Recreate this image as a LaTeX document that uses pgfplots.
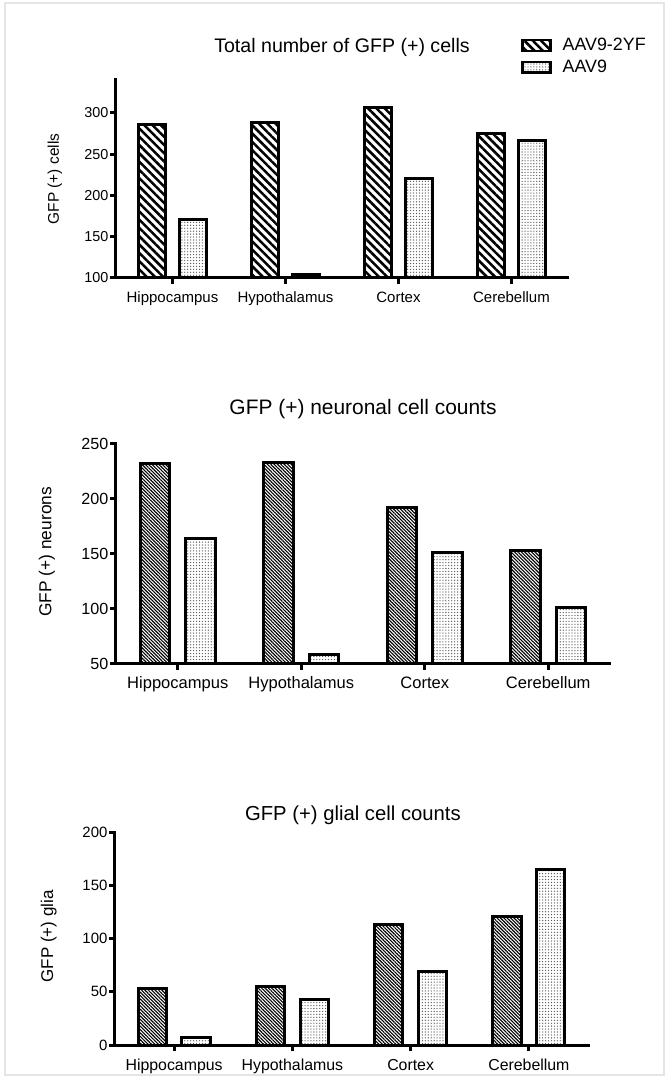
\documentclass[border=0pt]{standalone}
\usepackage{fontspec}
\setmainfont{Liberation Sans}
\usepackage{pgfplots}
\pgfplotsset{compat=1.18}
\usetikzlibrary{patterns.meta}

\pgfplotsset{
  brainbars/.style={
    scale only axis,
    axis lines=left,
    axis line style={-, line width=2.25pt, line cap=rect},
    tick align=outside,
    major tick length=4.5pt,
    every tick/.style={black, line width=2.25pt},
    xmin=-0.5, xmax=3.5,
    xtick={0,1,2,3},
    xticklabels={Hippocampus,Hypothalamus,Cortex,Cerebellum},
    ybar, bar width=0.24,
    /pgf/number format/assume math mode=true,
    yticklabel style={inner sep=1pt},
    xticklabel style={anchor=base, inner sep=0pt, yshift=-14.25pt},
  },
  legendbox/.style={legend image code/.code={%
    \draw[##1, line width=1.8pt] (0pt,-4pt) rectangle (21pt,4pt);
    \path (27pt,0pt);}},
  coarsehatch/.style={draw=black, line width=2.25pt, bar shift=-0.185,
    pattern={Lines[angle=-45, distance=4.4pt, line width=1.9pt]},
    pattern color=black, legendbox},
  finehatch/.style={draw=black, line width=2.25pt, bar shift=-0.185,
    pattern={Lines[angle=-45, distance=1.8pt, line width=0.85pt]},
    pattern color=black, legendbox},
  dotfill/.style={draw=black, line width=2.25pt, bar shift=0.185,
    pattern={Dots[distance=2.2pt, radius=0.5pt]},
    pattern color=gray!70!black, legendbox},
}

\begin{document}
\begin{tikzpicture}
\path[use as bounding box] (0,0) rectangle (499.5pt,807pt);
\draw[gray!20, line width=1.5pt] (3.75pt,0.75pt) rectangle (498pt,804.75pt);

% total GFP-positive cells
\begin{axis}[brainbars,
  at={(87pt,598.5pt)}, anchor=south west,
  width=339pt, height=148.5pt,
  ymin=100, ymax=340, ytick={100,150,200,250,300},
  xticklabel style={font=\fontsize{11.25}{13}\selectfont},
  yticklabel style={font=\fontsize{10.8}{13}\selectfont},
  title={Total number of GFP (+) cells},
  every axis title/.style={at={(axis description cs:0.5,1.141)}, anchor=base, font=\fontsize{14.7}{17}\selectfont},
  ylabel={GFP (+) cells},
  every axis y label/.style={at={(axis description cs:-0.135,0.5)}, rotate=90, anchor=center, font=\fontsize{11.6}{14}\selectfont},
  legend style={at={(axis description cs:0.896,1.226)}, anchor=north west,
    draw=none, fill=none, inner sep=0pt, row sep=1.5pt,
    font=\fontsize{13.4}{15}\selectfont},
  legend cell align=left,
]
\addplot[coarsehatch] coordinates {(0,286) (1,288) (2,307) (3,275)};
\addplot[dotfill] coordinates {(0,171) (1,104) (2,221) (3,267)};
\legend{AAV9-2YF, AAV9}
\end{axis}

% neuronal counts
\begin{axis}[brainbars,
  at={(87pt,309pt)}, anchor=south west,
  width=370.5pt, height=165pt,
  ymin=50, ymax=250, ytick={50,100,150,200,250},
  xticklabel style={font=\fontsize{12.4}{14}\selectfont},
  yticklabel style={font=\fontsize{12.1}{14}\selectfont},
  title={GFP (+) neuronal cell counts},
  every axis title/.style={at={(axis description cs:0.5,1.132)}, anchor=base, font=\fontsize{15.7}{18}\selectfont},
  ylabel={GFP (+) neurons},
  every axis y label/.style={at={(axis description cs:-0.14,0.51)}, rotate=90, anchor=center, font=\fontsize{13}{15}\selectfont},
]
\addplot[finehatch] coordinates {(0,232) (1,233) (2,192) (3,153)};
\addplot[dotfill] coordinates {(0,164) (1,59) (2,151) (3,101)};
\end{axis}

% glial counts
\begin{axis}[brainbars,
  at={(86.25pt,23.25pt)}, anchor=south west,
  width=354.75pt, height=159.75pt,
  ymin=0, ymax=200, ytick={0,50,100,150,200},
  xticklabel style={font=\fontsize{11.9}{14}\selectfont},
  yticklabel style={font=\fontsize{11.2}{13}\selectfont},
  title={GFP (+) glial cell counts},
  every axis title/.style={at={(axis description cs:0.503,1.053)}, anchor=base, font=\fontsize{15.2}{18}\selectfont},
  ylabel={GFP (+) glia},
  every axis y label/.style={at={(axis description cs:-0.14,0.51)}, rotate=90, anchor=center, font=\fontsize{12.75}{15}\selectfont},
]
\addplot[finehatch] coordinates {(0,53) (1,55) (2,113) (3,121)};
\addplot[dotfill] coordinates {(0,7) (1,43) (2,69) (3,165)};
\end{axis}
\end{tikzpicture}
\end{document}
